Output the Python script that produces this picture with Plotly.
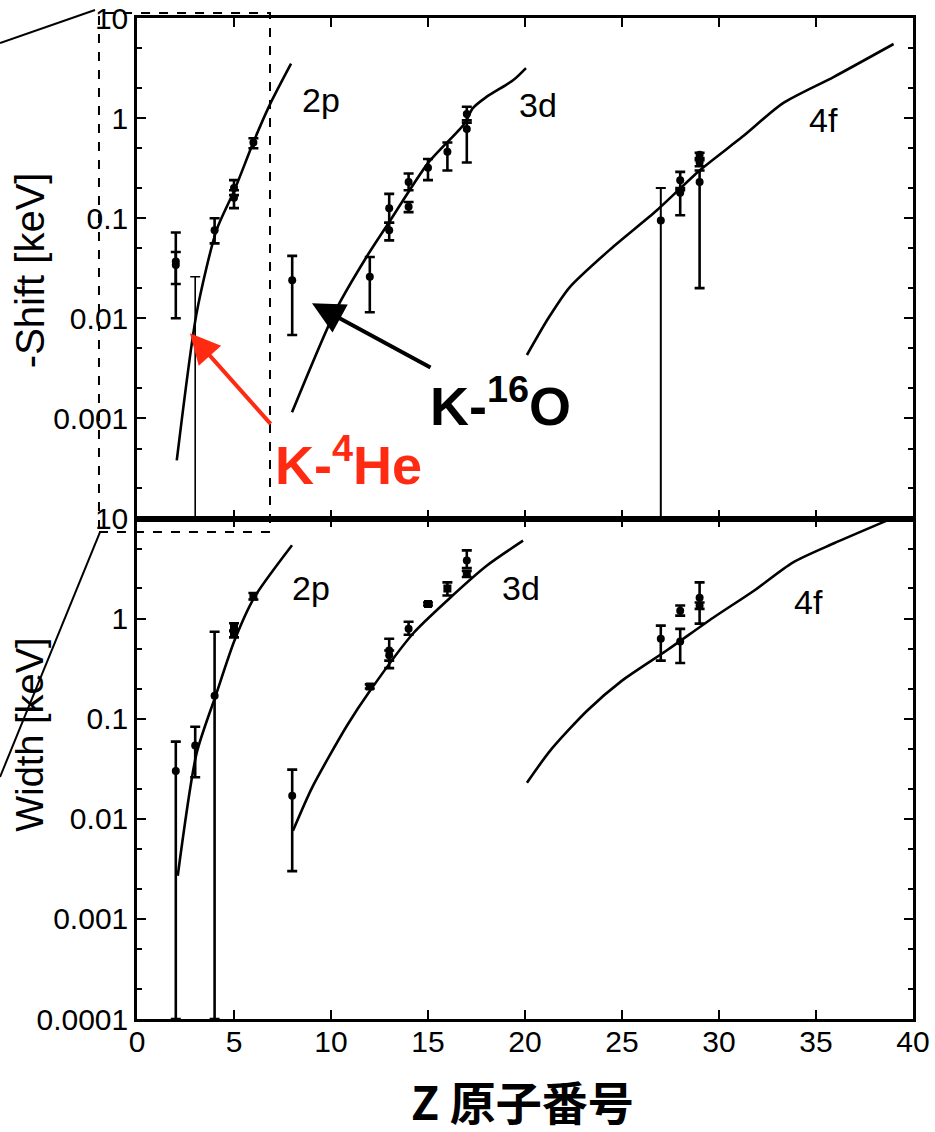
import plotly.graph_objects as go

# ---------------- calculated level shifts (keV) ----------------
shift_2p_z = [2.05, 3.07, 4.1, 5.02, 6.04, 6.86, 7.94]
shift_2p_v = [0.00038, 0.0112, 0.076, 0.19, 0.60, 1.38, 3.5]
shift_3d_z = [7.99, 10.24, 11.83, 12.96, 15.0, 16.9, 17.3, 18.0, 19.4, 20.05]
shift_3d_v = [0.00115, 0.012, 0.041, 0.089, 0.355, 0.89, 1.25, 1.62, 2.4, 3.16]
shift_4f_z = [20.1, 21.2, 22.3, 24.4, 26.8, 29.0, 31.2, 33.3, 35.9, 39.0]
shift_4f_v = [0.0043, 0.010, 0.0204, 0.049, 0.12, 0.30, 0.65, 1.41, 2.57, 5.5]

# ---------------- calculated level widths (keV) ----------------
width_2p_z = [2.1, 3.07, 4.1, 5.02, 6.04, 7.99]
width_2p_v = [0.0027, 0.045, 0.18, 0.60, 1.62, 5.4]
width_3d_z = [8.04, 9.02, 10.82, 12.01, 14.23, 15.98, 18.04, 19.9]
width_3d_v = [0.0076, 0.0204, 0.085, 0.19, 0.71, 1.51, 3.39, 6.0]
width_4f_z = [20.1, 21.3, 23.2, 25.0, 27.3, 29.7, 31.8, 33.8, 35.9, 38.8]
width_4f_v = [0.0229, 0.048, 0.12, 0.24, 0.48, 1.02, 1.9, 3.63, 5.62, 9.8]

# ---------------- measured shifts: Z, value, upper, lower ----------------
shift_pt_z = [2, 2, 4, 5, 5, 6, 8, 12, 13, 13, 14, 14, 15, 16, 17, 17, 28, 28, 29, 29, 29]
shift_pt_v = [0.037, 0.034, 0.076, 0.20, 0.16, 0.57, 0.024, 0.026, 0.126, 0.076, 0.23, 0.13,
              0.32, 0.46, 1.1, 0.78, 0.24, 0.18, 0.43, 0.36, 0.23]
shift_pt_hi = [0.072, 0.046, 0.10, 0.24, 0.19, 0.63, 0.042, 0.041, 0.175, 0.09, 0.28, 0.145,
               0.39, 0.57, 1.3, 0.95, 0.29, 0.20, 0.45, 0.38, 0.30]
shift_pt_lo = [0.010, 0.022, 0.056, 0.17, 0.126, 0.50, 0.0068, 0.0115, 0.09, 0.06, 0.19, 0.115,
               0.24, 0.30, 0.9, 0.36, 0.19, 0.107, 0.40, 0.33, 0.02]
# upper limits reaching the axis floor (Z, top of bar, marker value)
shift_lim_z = [3, 27]
shift_lim_top = [0.026, 0.20]
shift_lim_v = [None, 0.095]

# ---------------- measured widths: Z, value, upper, lower, symbol ----------------
width_pt_z = [2, 3, 4, 5, 5, 6, 8, 12, 13, 13, 14, 15, 16, 17, 17, 27, 28, 28, 29, 29]
width_pt_v = [0.030, 0.054, 0.17, 0.82, 0.70, 1.66, 0.017, 0.21, 0.48, 0.43, 0.79, 1.4, 2.0,
              3.8, 2.8, 0.63, 0.59, 1.2, 1.62, 1.35]
width_pt_hi = [0.059, 0.083, 0.74, 0.90, 0.76, 1.8, 0.031, 0.22, 0.63, 0.48, 0.93, 1.45, 2.3,
               4.8, 3.0, 0.85, 0.79, 1.35, 2.3, 1.45]
width_pt_lo = [0.0001, 0.026, 0.0001, 0.75, 0.65, 1.55, 0.003, 0.20, 0.32, 0.38, 0.69, 1.35, 1.7,
               3.2, 2.6, 0.38, 0.36, 1.07, 0.89, 1.25]
width_pt_sym = ["circle", "circle", "circle", "square", "square", "square", "circle", "square",
                "circle", "circle", "circle", "square", "square", "circle", "square",
                "circle", "circle", "circle", "circle", "circle"]

# ---------------- axis ticks ----------------
x_ticks = [0, 5, 10, 15, 20, 25, 30, 35, 40]
shift_ticks = [10, 1, 0.1, 0.01, 0.001]
shift_tick_text = ["10", "1", "0.1", "0.01", "0.001"]
width_ticks = [10, 1, 0.1, 0.01, 0.001, 0.0001]
width_tick_text = ["10", "1", "0.1", "0.01", "0.001", "0.0001"]
minor_vals = [m * 10.0 ** k for k in range(-4, 1) for m in (2, 5)]

# shell labels: (text, Z, log10 value)
shift_labels = [("2p", 9.48, 0.18), ("3d", 20.67, 0.13), ("4f", 35.4, -0.02)]
width_labels = [("2p", 8.97, 0.31), ("3d", 19.8, 0.31), ("4f", 34.6, 0.17)]

BLACK = "#000000"
RED = "#FF2A12"
FONT = "Liberation Sans"

fig = go.Figure()


def curve(z, v, xa, ya):
    fig.add_trace(go.Scatter(x=z, y=v, mode="lines", xaxis=xa, yaxis=ya,
                             line=dict(color=BLACK, width=2.6, shape="spline", smoothing=0.7),
                             hoverinfo="skip", showlegend=False))


def points(z, v, hi, lo, xa, ya, symbols="circle"):
    fig.add_trace(go.Scatter(
        x=z, y=v, mode="markers", xaxis=xa, yaxis=ya,
        marker=dict(color=BLACK, size=8, symbol=symbols),
        error_y=dict(type="data", symmetric=False,
                     array=[h - c for h, c in zip(hi, v)],
                     arrayminus=[c - l for c, l in zip(v, lo)],
                     color=BLACK, thickness=2.6, width=5),
        showlegend=False))


# top panel: shifts
curve(shift_2p_z, shift_2p_v, "x2", "y2")
curve(shift_3d_z, shift_3d_v, "x2", "y2")
curve(shift_4f_z, shift_4f_v, "x2", "y2")
points(shift_pt_z, shift_pt_v, shift_pt_hi, shift_pt_lo, "x2", "y2")
for z, top, v, w in zip(shift_lim_z, shift_lim_top, shift_lim_v, [1.6, 2.0]):
    fig.add_trace(go.Scatter(
        x=[z], y=[top], mode="markers", xaxis="x2", yaxis="y2",
        marker=dict(color="rgba(0,0,0,0)", size=2),
        error_y=dict(type="data", symmetric=False, array=[0], arrayminus=[top - 0.0001],
                     color=BLACK, thickness=w, width=5),
        showlegend=False))
    if v is not None:
        fig.add_trace(go.Scatter(x=[z], y=[v], mode="markers", xaxis="x2", yaxis="y2",
                                 marker=dict(color=BLACK, size=8), showlegend=False))

# bottom panel: widths
curve(width_2p_z, width_2p_v, "x", "y")
curve(width_3d_z, width_3d_v, "x", "y")
curve(width_4f_z, width_4f_v, "x", "y")
points(width_pt_z, width_pt_v, width_pt_hi, width_pt_lo, "x", "y", width_pt_sym)

axis_common = dict(showline=True, linecolor=BLACK, linewidth=2.5, mirror="ticks",
                   ticks="inside", ticklen=9, tickwidth=2, tickcolor=BLACK,
                   showgrid=False, zeroline=False, automargin=False,
                   tickfont=dict(family=FONT, size=30, color=BLACK))

y_minor = dict(tickvals=minor_vals, ticks="inside", ticklen=5, tickwidth=1.6, tickcolor=BLACK,
               showgrid=False)

fig.update_layout(
    width=935, height=1132,
    margin=dict(l=137, r=22, t=18, b=113),
    paper_bgcolor="white", plot_bgcolor="white",
    showlegend=False,
    xaxis=dict(range=[0, 40], tickvals=x_ticks, anchor="y", ticklabelstandoff=-6,
               **axis_common),
    xaxis2=dict(range=[0, 40], tickvals=x_ticks, anchor="y2", matches="x",
                showticklabels=False, **axis_common),
    yaxis=dict(type="log", range=[-4, 1], domain=[0, 0.5], anchor="x",
               tickvals=width_ticks, ticktext=width_tick_text, minor=y_minor, **axis_common),
    yaxis2=dict(type="log", range=[-4, 1], domain=[0.5, 1], anchor="x2",
                tickvals=shift_ticks, ticktext=shift_tick_text, minor=y_minor, **axis_common),
)

ann = []
for text, z, lv in shift_labels:
    ann.append(dict(text=text, x=z, y=lv, xref="x2", yref="y2", showarrow=False,
                    xanchor="center", yanchor="middle",
                    font=dict(family=FONT, size=34, color=BLACK)))
for text, z, lv in width_labels:
    ann.append(dict(text=text, x=z, y=lv, xref="x", yref="y", showarrow=False,
                    xanchor="center", yanchor="middle",
                    font=dict(family=FONT, size=34, color=BLACK)))


def paper_text(text, x, y, size, color=BLACK, family=FONT, angle=0, yanchor="middle"):
    ann.append(dict(text=text, x=x, y=y, xref="paper", yref="paper", showarrow=False,
                    xanchor="center", yanchor=yanchor, textangle=angle,
                    font=dict(family=family, size=size, color=color)))


# axis titles
paper_text("-Shift [keV]", -0.138, 0.748, 40, angle=-90)
paper_text("Width [keV]", -0.138, 0.284, 38, angle=-90)
paper_text("<b>Z 原子番号</b>", 0.497, -0.081, 46, family="Noto Sans CJK JP")
paper_text("(a)", 0.098, 1.019, 36, yanchor="bottom")

# atom labels with arrows
ann.append(dict(text="", x=2.73, y=-2.15, xref="x2", yref="y2", ax=82, ay=92,
                showarrow=True, arrowhead=2, arrowsize=1.5, arrowwidth=4, arrowcolor=RED))
paper_text("<b>K-<sup>4</sup>He</b>", 0.273, 0.557, 54, color=RED)
ann.append(dict(text="", x=9.02, y=-1.85, xref="x2", yref="y2", ax=120, ay=65,
                showarrow=True, arrowhead=2, arrowsize=1.6, arrowwidth=4, arrowcolor=BLACK))
paper_text("<b>K-<sup>16</sup>O</b>", 0.469, 0.616, 54)
fig.update_layout(annotations=ann)

# zoom frame around the light-Z region and its connector lines
fig.add_shape(type="rect", xref="paper", yref="paper", x0=-0.049, x1=0.1714,
              y0=0.4865, y1=1.005, line=dict(color=BLACK, width=2, dash="dash"))
fig.add_shape(type="line", xref="paper", yref="paper", x0=-0.1765, y0=0.975,
              x1=-0.0541, y1=1.008, line=dict(color=BLACK, width=2))
fig.add_shape(type="line", xref="paper", yref="paper", x0=-0.0477, y0=0.4865,
              x1=-0.1765, y1=0.2418, line=dict(color=BLACK, width=2))

fig.write_html("out.html")
